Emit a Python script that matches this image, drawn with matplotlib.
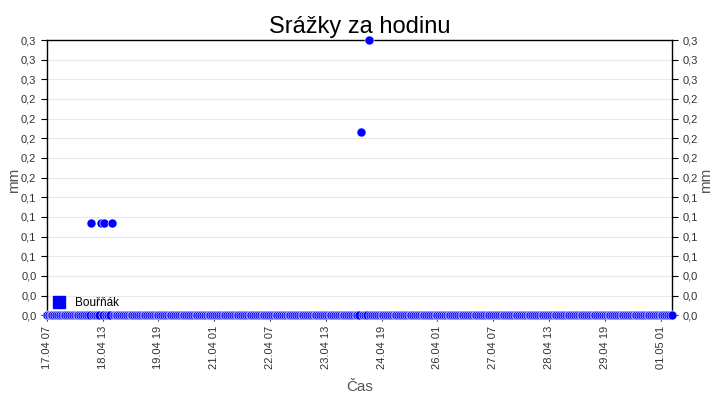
import matplotlib
matplotlib.use('Agg')
import matplotlib.pyplot as plt
import matplotlib.dates as mdates
import matplotlib.ticker as mticker
import numpy as np
import pandas as pd

plt.rcParams['font.family'] = ['Liberation Sans', 'DejaVu Sans']

# Hourly rain, 17.04 07:00 .. 01.05 07:00
start = '2023-04-17 07:00'
end = '2023-05-01 07:00'
rain_hours = [24, 29, 31, 35, 169, 173]     # hours after start with rain
rain_values = [0.1, 0.1, 0.1, 0.1, 0.2, 0.3]
series_name = 'Bouřňák'

times = pd.date_range(start, end, freq='h')
values = np.zeros(len(times))
for h, v in zip(rain_hours, rain_values):
    values[h] = v

tick_times = pd.date_range('2023-04-17 07:00', '2023-05-01 01:00', freq='30h')

fig, ax = plt.subplots(figsize=(7.2, 4.0), dpi=100)
fig.subplots_adjust(left=0.065, right=0.933, top=0.9, bottom=0.212)

blue = '#0000ff'
grey = '#555555'

ax.plot(times, values, linestyle='none', marker='o', markersize=6.5,
        markerfacecolor=blue, markeredgecolor='white', markeredgewidth=0.4,
        clip_on=False, zorder=3, label=series_name)

ax.set_xlim(times[0], times[-1])
ax.set_ylim(0, 0.3)
ax.set_yticks(np.linspace(0, 0.3, 15))
ax.yaxis.set_major_formatter(mticker.FuncFormatter(lambda v, p: ('%.1f' % (v + 1e-9)).replace('.', ',')))
ax.grid(axis='y', color='#e8e8e8', linewidth=0.8)
ax.set_axisbelow(True)

ax.set_xticks(tick_times)
ax.xaxis.set_major_formatter(mdates.DateFormatter('%d.%m %H'))
for lbl in ax.get_xticklabels():
    lbl.set_rotation(90)

ax.tick_params(axis='both', labelsize=8, colors='black', labelcolor='#333333',
               length=4, direction='out')
ax.tick_params(axis='y', right=True, labelright=True)

for s in ax.spines.values():
    s.set_color('black')
    s.set_linewidth(1)

ax.set_title('Srážky za hodinu', fontsize=17, pad=5)
ax.set_xlabel('Čas', fontsize=11, color=grey, labelpad=8)
fig.text(0.02, 0.55, 'mm', fontsize=11, color=grey, rotation=90, ha='center', va='center')
fig.text(0.981, 0.55, 'mm', fontsize=11, color=grey, rotation=90, ha='center', va='center')

handle = plt.Line2D([], [], linestyle='none', marker='s', markersize=8,
                    markerfacecolor=blue, markeredgecolor=blue)
ax.legend([handle], [series_name], loc='lower left', frameon=False, fontsize=8.5,
          handletextpad=0.8, handlelength=1.2, borderaxespad=0.0,
          bbox_to_anchor=(0.0, 0.005))

fig.savefig('out.png', dpi=100)
